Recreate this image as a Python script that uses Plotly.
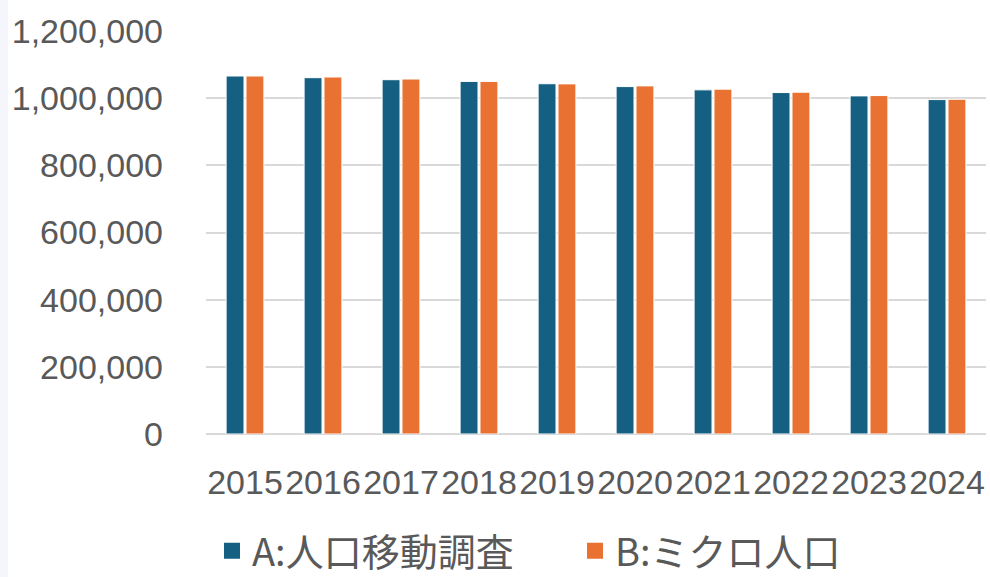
import plotly.graph_objects as go

years = ["2015", "2016", "2017", "2018", "2019", "2020", "2021", "2022", "2023", "2024"]
series_a_name = "A:人口移動調査"
series_b_name = "B:ミクロ人口"
series_a = [1066000, 1061000, 1055000, 1050000, 1043000, 1034500, 1024700, 1016700, 1006800, 995800]
series_b = [1066000, 1063000, 1057000, 1050000, 1042500, 1036600, 1026800, 1017700, 1007800, 996800]
y_ticks = [0, 200000, 400000, 600000, 800000, 1000000, 1200000]
y_tick_labels = ["0", "200,000", "400,000", "600,000", "800,000", "1,000,000", "1,200,000"]

BLUE = "#156082"
ORANGE = "#E97132"
TEXT = "#595959"
GRID = "#D9D9D9"

fig = go.Figure()
fig.add_trace(go.Bar(x=years, y=series_a, name=series_a_name, showlegend=False,
                     marker=dict(color=BLUE, line=dict(color="white", width=1))))
fig.add_trace(go.Bar(x=years, y=series_b, name=series_b_name, showlegend=False,
                     marker=dict(color=ORANGE, line=dict(color="white", width=1))))
# legend entries with larger square keys
fig.add_trace(go.Scatter(x=[None], y=[None], mode="markers", name=series_a_name,
                         marker=dict(symbol="square", size=16, color=BLUE)))
fig.add_trace(go.Scatter(x=[None], y=[None], mode="markers", name=series_b_name,
                         marker=dict(symbol="square", size=16, color=ORANGE)))

W, H = 990, 577
L, R, T, B = 206, 4, 31, 143
PW, PH = W - L - R, H - T - B

fig.update_layout(
    width=W, height=H,
    margin=dict(l=L, r=R, t=T, b=B, pad=0, autoexpand=False),
    paper_bgcolor="white", plot_bgcolor="white",
    barmode="group", bargap=0.49, bargroupgap=0.1,
    font=dict(family="Liberation Sans, Arial, sans-serif", size=34, color=TEXT),
    showlegend=True,
    legend=dict(orientation="h", x=(212 - L) / PW, xanchor="left",
                y=(434 - 551) / PH, yanchor="middle",
                font=dict(family="Noto Sans CJK JP, Liberation Sans, sans-serif", size=38, color=TEXT),
                entrywidth=318, itemwidth=30, itemsizing="trace", bgcolor="rgba(0,0,0,0)"),
    xaxis=dict(type="category", tickangle=0, showgrid=False, showline=False, zeroline=False,
               ticks="", ticklabelstandoff=25, automargin=False,
               tickfont=dict(family="Liberation Sans, Arial, sans-serif", size=34, color=TEXT)),
    yaxis=dict(range=[0, 1200000], tickvals=y_ticks, ticktext=y_tick_labels,
               showgrid=True, gridcolor=GRID, gridwidth=1.5, zeroline=True,
               zerolinecolor=GRID, zerolinewidth=1.5, showline=False, ticks="",
               ticklabelstandoff=42, automargin=False,
               tickfont=dict(family="Liberation Sans, Arial, sans-serif", size=34, color=TEXT)),
    shapes=[dict(type="rect", xref="paper", yref="paper",
                 x0=-L / PW, x1=(8 - L) / PW, y0=-B / PH, y1=1 + T / PH,
                 fillcolor="#F4F6FB", line=dict(width=0), layer="below")],
)

fig.write_html("out.html", config={"displayModeBar": False},
               post_script="document.body.style.margin='0';document.body.style.overflow='hidden';")
